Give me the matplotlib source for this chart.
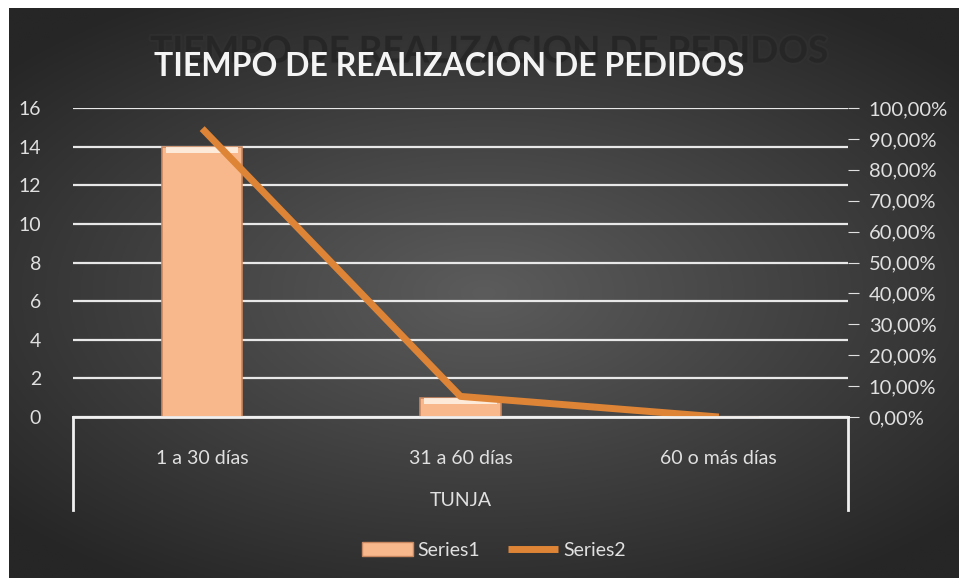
import numpy as np
import matplotlib.pyplot as plt
import matplotlib.patheffects as pe
from matplotlib.lines import Line2D
from matplotlib.patches import Patch

categories = ['1 a 30 días', '31 a 60 días', '60 o más días']
group_label = 'TUNJA'
series1 = [14, 1, 0]
series2 = [0.9333, 0.0667, 0.0]
left_ticks = [0, 2, 4, 6, 8, 10, 12, 14, 16]
right_ticks = [0.0, 0.1, 0.2, 0.3, 0.4, 0.5, 0.6, 0.7, 0.8, 0.9, 1.0]
title = 'TIEMPO DE REALIZACION DE PEDIDOS'

plt.rcParams['font.family'] = ['Lato', 'DejaVu Sans']

W, H = 959, 578
fig = plt.figure(figsize=(W / 100, H / 100), dpi=100, facecolor='white')

def fx(px):
    return px / W

def fy(py):
    return 1 - py / H

# background with radial gradient
bg = fig.add_axes([fx(9), 0, 1 - fx(9), fy(8)])
yy, xx = np.mgrid[-1:1:300j, -1:1:500j]
r = np.sqrt((xx / 1.0) ** 2 + (yy / 0.9) ** 2)
r = np.clip(r / 1.35, 0, 1)
c_in, c_out = 0x5c / 255, 0x26 / 255
img = c_in + (c_out - c_in) * r
bg.imshow(np.dstack([img, img, img]), aspect='auto', extent=[0, 1, 0, 1])
bg.set_axis_off()

# plot area
x0, x1, ytop, ybot = 73, 848, 108, 417
ax = fig.add_axes([fx(x0), fy(ybot), fx(x1 - x0), (ybot - ytop) / H])
ax.patch.set_alpha(0)
x = np.arange(len(categories))
ax.set_xlim(-0.5, len(categories) - 0.5)
ax.set_ylim(0, 16)
ax.set_yticks(left_ticks)
ax.set_yticklabels([str(t) for t in left_ticks])
ax.grid(axis='y', color='#e8e8e8', linewidth=1.6)
ax.set_axisbelow(True)
for s in ax.spines.values():
    s.set_visible(False)
ax.tick_params(axis='y', length=0, colors='#e0e0e0', labelsize=14, pad=23)
ax.set_xticks([])

bars = ax.bar(x, series1, width=0.31, color='#f9b88c', edgecolor='#c98760',
              linewidth=1.2, zorder=3)
# light bevel highlight on top of bars
for b in bars:
    h = b.get_height()
    if h > 0:
        hh = min(0.35, h * 0.4)
        ax.bar(b.get_x() + b.get_width() / 2, hh, bottom=h - hh,
               width=b.get_width() * 0.9, color='#fff4e6', linewidth=0,
               zorder=4, alpha=0.85)

ax2 = ax.twinx()
ax2.set_ylim(0, 1)
ax2.set_yticks(right_ticks)
ax2.set_yticklabels([f'{t * 100:.2f}%'.replace('.', ',') for t in right_ticks])
ax2.tick_params(axis='y', length=8, direction='out', colors='#e0e0e0',
                labelsize=14.5, pad=7)
for s in ax2.spines.values():
    s.set_visible(False)
ax2.plot(x, series2, color='#de8436', linewidth=5, zorder=5,
         solid_capstyle='butt')

# category axis (baseline + separators + labels)
for xp in (x0, x1):
    fig.add_artist(Line2D([fx(xp), fx(xp)], [fy(ybot), fy(510)],
                          color='#f0f0f0', linewidth=2))
fig.add_artist(Line2D([fx(x0), fx(x1)], [fy(ybot), fy(ybot)],
                      color='#f0f0f0', linewidth=2))
for i, c in enumerate(categories):
    xc = x0 + (x1 - x0) * (i + 0.5) / len(categories)
    fig.text(fx(xc), fy(458), c, ha='center', va='center', color='#e0e0e0',
             fontsize=14)
fig.text(fx((x0 + x1) / 2), fy(500), group_label, ha='center', va='center',
         color='#e0e0e0', fontsize=14)

# title with shadow reflection
fig.text(fx(489), fy(52), title, ha='center', va='center', color='#262626',
         fontsize=26.5, fontweight='bold', alpha=0.9,
         path_effects=[pe.withStroke(linewidth=3, foreground='#333333', alpha=0.5)])
fig.text(fx(449), fy(66), title, ha='center', va='center', color='#f4f4f4',
         fontsize=23, fontweight='bold')

# legend
handles = [Patch(facecolor='#f9b88c', edgecolor='#c98760', label='Series1'),
           Line2D([0], [0], color='#de8436', linewidth=5, label='Series2',
                  solid_capstyle='butt')]
leg = fig.legend(handles=handles, loc='center', bbox_to_anchor=(fx(494), fy(550)),
                 ncol=2, frameon=False, fontsize=14, handlelength=2.6,
                 columnspacing=1.4, handletextpad=0.25, labelcolor='#e0e0e0')

fig.savefig('out.png', dpi=100, facecolor='white')
